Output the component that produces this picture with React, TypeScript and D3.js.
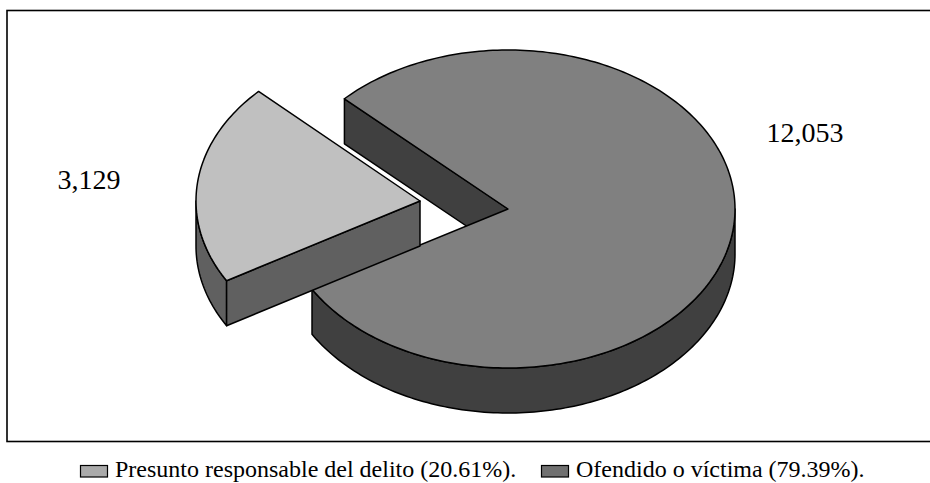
import * as d3 from 'd3';
import { useEffect, useRef } from 'react';

const categories = ['Presunto responsable del delito', 'Ofendido o víctima'];
const values = [3129, 12053];
const valueLabels = ['3,129', '12,053'];
const shares = ['20.61%', '79.39%'];
const topColors = ['#c0c0c0', '#808080'];
const sideColors = ['#606060', '#404040'];
const swatchColors = ['#aaaaaa', '#707070'];

const width = 930;
const height = 483;
const center = { x: 508, y: 209, rx: 227, ry: 159 };
const slice = { x: 420, y: 201, rx: 224, ry: 158 };
const depth = 45;
const startAngle = (-120.3 * Math.PI) / 180;

type Pt = [number, number];
type Ell = { x: number; y: number; rx: number; ry: number };

const App = () => {
  const svgRef = useRef<SVGSVGElement>(null);

  useEffect(() => {
    const svg = d3.select(svgRef.current);
    svg.selectAll('*').remove();

    // frame runs off the right side of the picture
    svg
      .append('rect')
      .attr('x', 7)
      .attr('y', 10.5)
      .attr('width', 940)
      .attr('height', 431)
      .attr('fill', '#fff')
      .attr('stroke', '#000')
      .attr('stroke-width', 1.6);

    const arcs = d3
      .pie<number>()
      .sort(null)
      .startAngle(startAngle)
      .endAngle(startAngle + 2 * Math.PI)(values);

    const line = d3.line();

    const project = (a: number, c: Ell, dz = 0): Pt => [
      c.x + c.rx * Math.sin(a),
      c.y - c.ry * Math.cos(a) + dz,
    ];

    const arcPoints = (a0: number, a1: number, c: Ell, dz = 0): Pt[] => {
      const n = Math.max(2, Math.ceil(Math.abs(a1 - a0) / 0.02));
      return d3.range(n + 1).map((i) => project(a0 + ((a1 - a0) * i) / n, c, dz));
    };

    const shape = (pts: Pt[], fill: string) =>
      svg
        .append('path')
        .attr('d', line(pts) + 'Z')
        .attr('fill', fill)
        .attr('stroke', '#000')
        .attr('stroke-width', 1.5)
        .attr('stroke-linejoin', 'round');

    // big slice first: inner cut wall, outer wall, then the top
    const big = arcs[1];
    const bigStart = project(big.startAngle, center);
    shape(
      [bigStart, [center.x, center.y], [center.x, center.y + depth], [bigStart[0], bigStart[1] + depth]],
      sideColors[1]
    );
    // only the part of the rim that faces the viewer shows
    const rimFrom = Math.PI / 2;
    shape(
      [
        ...arcPoints(rimFrom, big.endAngle, center),
        ...arcPoints(big.endAngle, rimFrom, center, depth),
      ],
      sideColors[1]
    );
    shape([[center.x, center.y], ...arcPoints(big.startAngle, big.endAngle, center)], topColors[1]);

    // exploded slice
    const small = arcs[0];
    const smallStart = project(small.startAngle, slice);
    const rimEnd = -Math.PI / 2;
    shape(
      [
        ...arcPoints(small.startAngle, rimEnd, slice),
        ...arcPoints(rimEnd, small.startAngle, slice, depth),
      ],
      sideColors[0]
    );
    shape(
      [smallStart, [slice.x, slice.y], [slice.x, slice.y + depth], [smallStart[0], smallStart[1] + depth]],
      sideColors[0]
    );
    shape([[slice.x, slice.y], ...arcPoints(small.startAngle, small.endAngle, slice)], topColors[0]);

    const font = '"Liberation Serif", "Times New Roman", serif';

    // value labels
    const labelPos: Pt[] = [
      [89, 189],
      [805, 142],
    ];
    valueLabels.forEach((label, i) => {
      svg
        .append('text')
        .attr('x', labelPos[i][0])
        .attr('y', labelPos[i][1])
        .attr('text-anchor', 'middle')
        .attr('font-family', font)
        .attr('font-size', 28)
        .attr('fill', '#000')
        .text(label);
    });

    // legend
    const legendX = [80, 541];
    categories.forEach((cat, i) => {
      const g = svg.append('g').attr('transform', `translate(${legendX[i]},0)`);
      g.append('rect')
        .attr('x', 0.5)
        .attr('y', 465.5)
        .attr('width', 27)
        .attr('height', 11.5)
        .attr('fill', swatchColors[i])
        .attr('stroke', '#000')
        .attr('stroke-width', 1.2);
      g.append('text')
        .attr('x', 35)
        .attr('y', 477)
        .attr('font-family', font)
        .attr('font-size', 24)
        .attr('fill', '#000')
        .text(`${cat} (${shares[i]}).`);
    });
  }, []);

  return (
    <svg
      ref={svgRef}
      width={width}
      height={height}
      style={{ position: 'absolute', left: 0, top: 0, background: '#fff' }}
    />
  );
};

export default App;
